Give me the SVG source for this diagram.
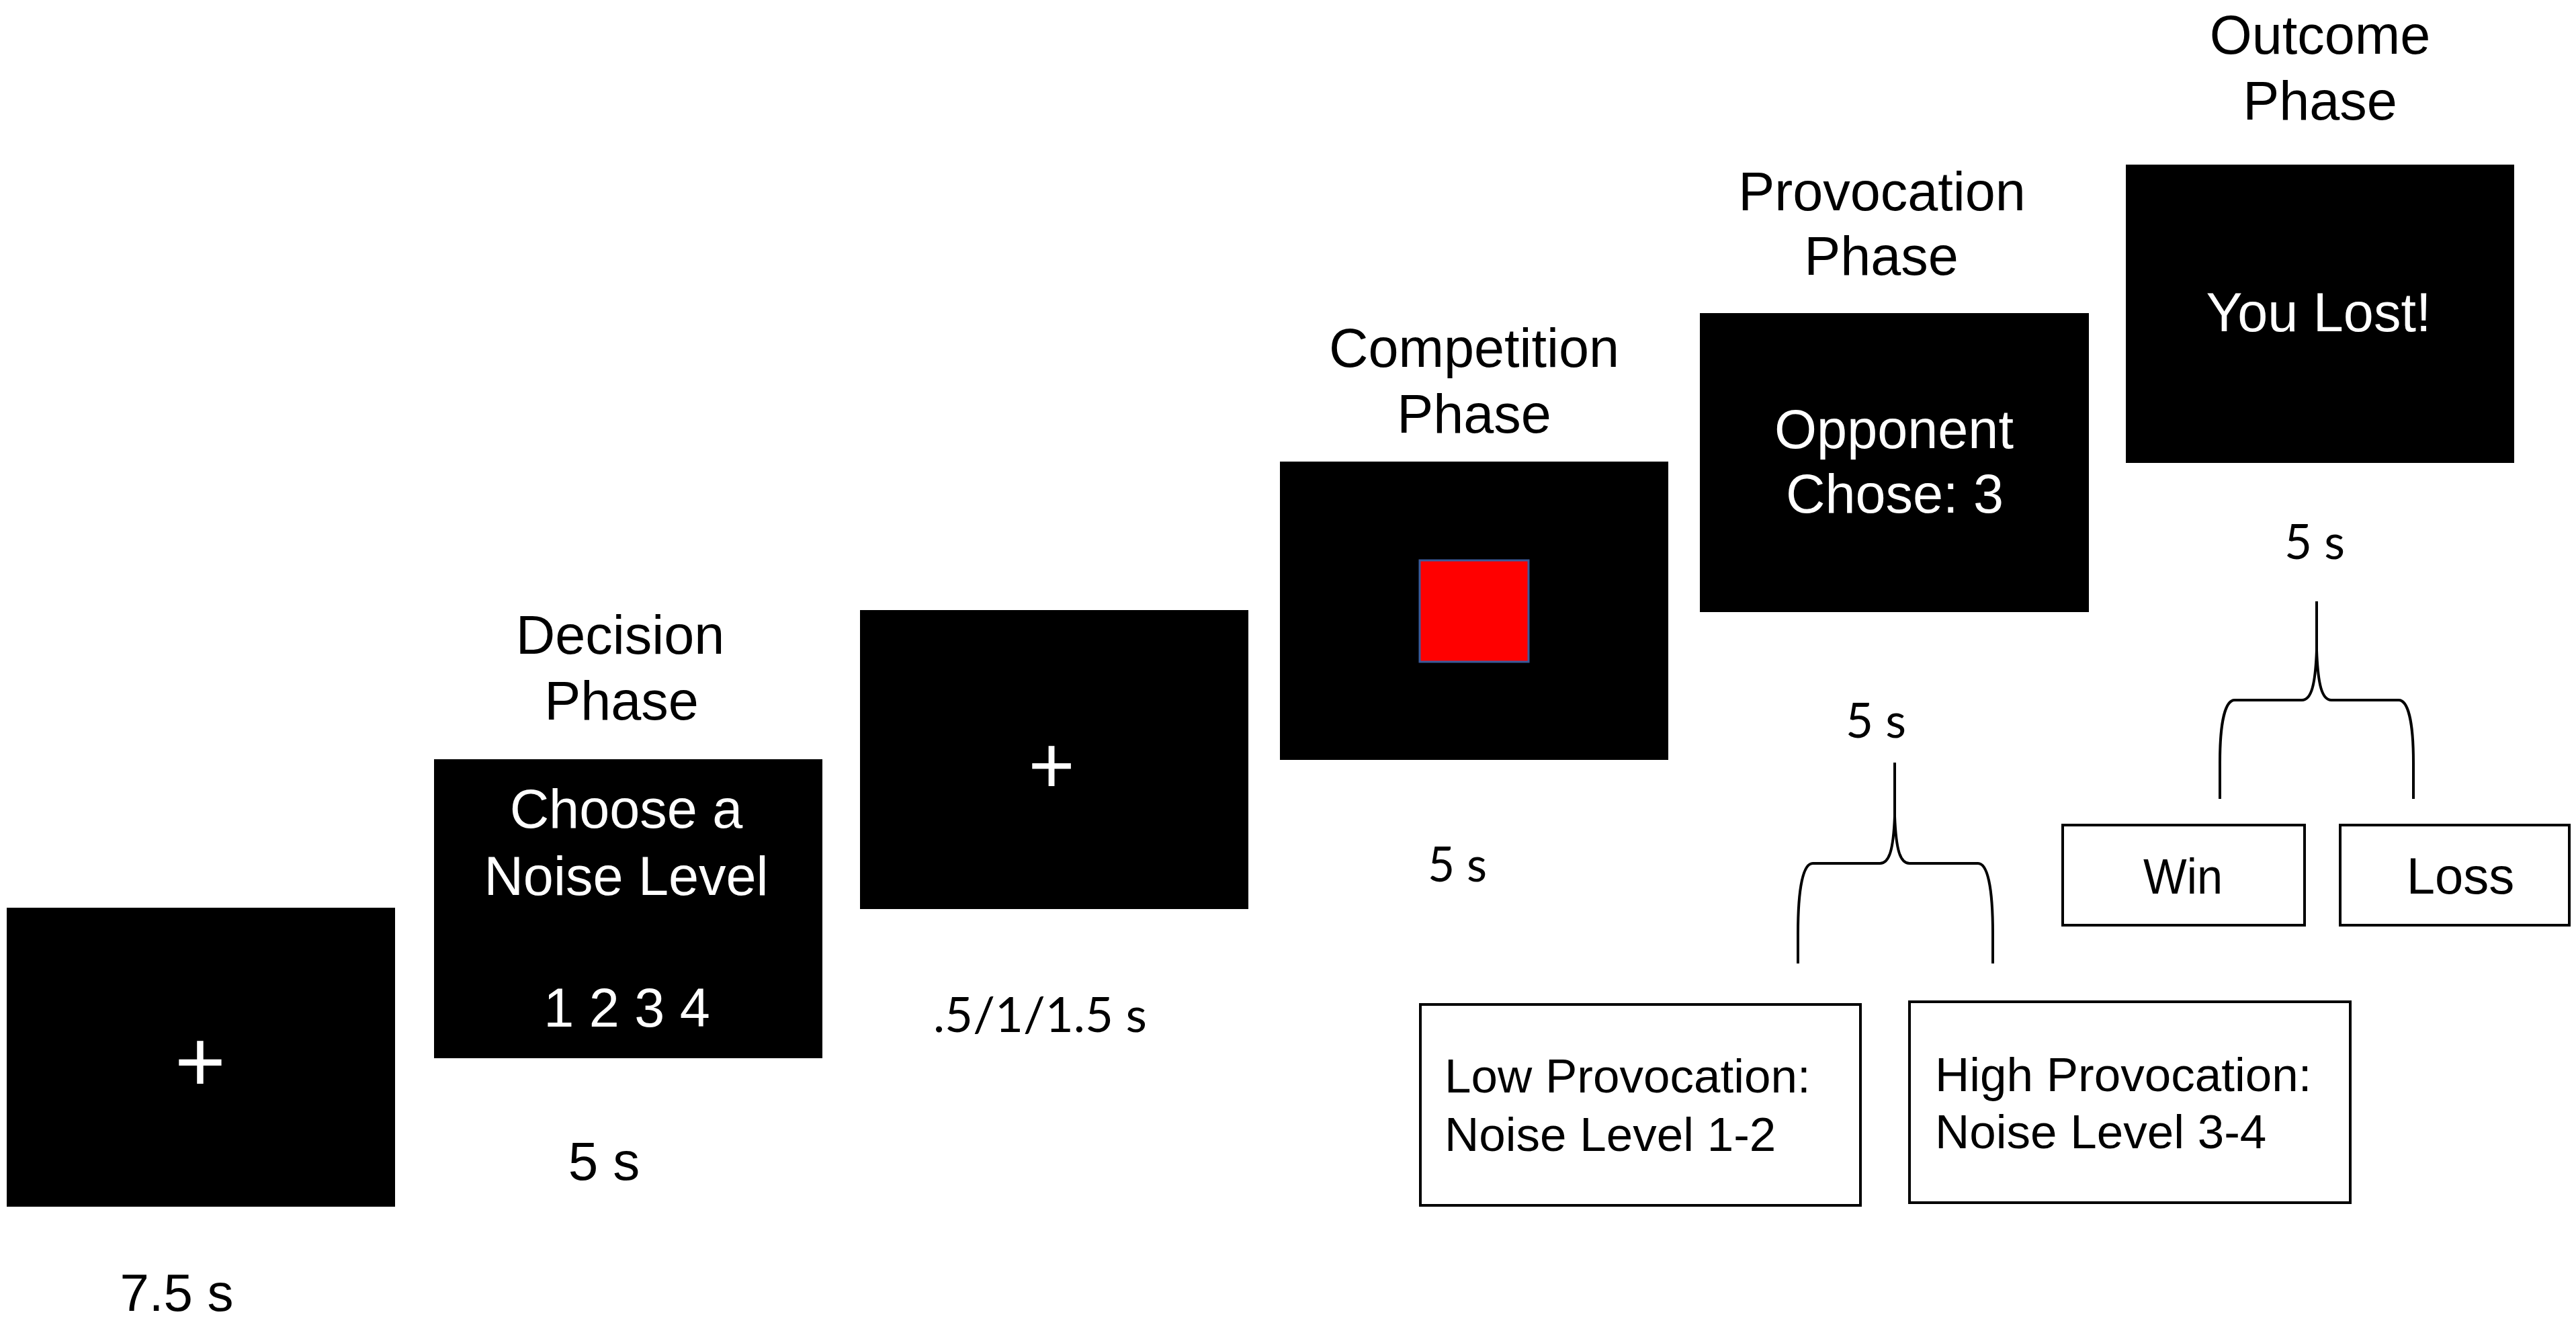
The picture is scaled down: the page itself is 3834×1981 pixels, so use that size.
<svg xmlns="http://www.w3.org/2000/svg" width="3834" height="1981" viewBox="0 0 3834 1981">
<style>
.screen{fill:#000}
.t{font-family:"Liberation Sans",Arial,sans-serif;font-size:81px;fill:#000;text-anchor:middle}
.w{fill:#fff}
.c{font-family:Lato,"Open Sans",sans-serif;font-size:72px;fill:#000;text-anchor:middle}
.plus{font-family:"Liberation Sans",Arial,sans-serif;font-size:130px;fill:#fff;text-anchor:middle}
.ob{fill:#fff;stroke:#000;stroke-width:4}
.l{font-family:"Liberation Sans",Arial,sans-serif;font-size:71px;fill:#000}
.brace{fill:none;stroke:#000;stroke-width:4;stroke-linejoin:round}
</style>
<rect width="3834" height="1981" fill="#fff"/>
<g id="fixation1">
<rect class="screen" x="10" y="1351" width="578" height="445"/>
<text class="plus" x="298" y="1624">+</text>
<text class="t" x="263" y="1951" style="font-size:78px">7.5 s</text>
</g>
<g id="decision">
<text class="t" x="923" y="973">Decision</text>
<text class="t" x="925" y="1071">Phase</text>
<rect class="screen" x="646" y="1130" width="578" height="445"/>
<text class="t w" x="932" y="1232">Choose a</text>
<text class="t w" x="932" y="1332">Noise Level</text>
<text class="t w" x="933" y="1528">1 2 3 4</text>
<text class="t" x="899" y="1756" style="font-size:80px">5 s</text>
</g>
<g id="fixation2">
<rect class="screen" x="1280" y="908" width="578" height="445"/>
<text class="plus" x="1565" y="1180" style="font-family:Lato,sans-serif;font-size:120px">+</text>
<text class="c" x="1548" y="1536" textLength="318" lengthAdjust="spacingAndGlyphs">.5/1/1.5 s</text>
</g>
<g id="competition">
<text class="t" x="2194" y="546">Competition</text>
<text class="t" x="2194" y="644">Phase</text>
<rect class="screen" x="1905" y="687" width="578" height="444"/>
<rect x="2113" y="834" width="162" height="151" fill="#f00" stroke="#3a5a9a" stroke-width="3"/>
<text class="c" x="2169" y="1312" textLength="88" lengthAdjust="spacingAndGlyphs">5 s</text>
</g>
<g id="provocation">
<text class="t" x="2801" y="313">Provocation</text>
<text class="t" x="2800" y="409">Phase</text>
<rect class="screen" x="2530" y="466" width="579" height="445"/>
<text class="t w" x="2819" y="667">Opponent</text>
<text class="t w" x="2820" y="763">Chose: 3</text>
<text class="c" x="2792" y="1098" textLength="90" lengthAdjust="spacingAndGlyphs">5 s</text>
</g>
<g id="outcome">
<text class="t" x="3453" y="80">Outcome</text>
<text class="t" x="3453" y="178">Phase</text>
<rect class="screen" x="3164" y="245" width="578" height="444"/>
<text class="t w" x="3451" y="493">You Lost!</text>
<text class="c" x="3445" y="832" textLength="90" lengthAdjust="spacingAndGlyphs">5 s</text>
</g>
<g id="low-provocation">
<rect class="ob" x="2114" y="1495" width="655" height="299"/>
<text class="l" x="2150" y="1626">Low Provocation:</text>
<text class="l" x="2150" y="1713">Noise Level 1-2</text>
</g>
<g id="high-provocation">
<rect class="ob" x="2842" y="1491" width="656" height="299"/>
<text class="l" x="2880" y="1624">High Provocation:</text>
<text class="l" x="2880" y="1709">Noise Level 3-4</text>
</g>
<g id="win">
<rect class="ob" x="3070" y="1228" width="360" height="149"/>
<text class="t" x="3249" y="1330" style="font-size:74px" textLength="118" lengthAdjust="spacingAndGlyphs">Win</text>
</g>
<g id="loss">
<rect class="ob" x="3483" y="1228" width="341" height="149"/>
<text class="t" x="3662" y="1330" style="font-size:76px">Loss</text>
</g>
<g id="connectors">
<path class="brace" d="M2676 1434 L2676 1390 C2676 1320 2684 1285 2698 1285 L2798 1285 C2812 1285 2818 1265 2820 1215 L2820 1135 M2966 1434 L2966 1390 C2966 1320 2958 1285 2944 1285 L2842 1285 C2828 1285 2822 1265 2820 1215"/>
<path class="brace" d="M3304 1189 L3304 1135 C3304 1075 3312 1042 3326 1042 L3426 1042 C3440 1042 3446 1020 3448 968 L3448 895 M3592 1189 L3592 1135 C3592 1075 3584 1042 3570 1042 L3470 1042 C3456 1042 3450 1020 3448 968"/>
</g>
</svg>
